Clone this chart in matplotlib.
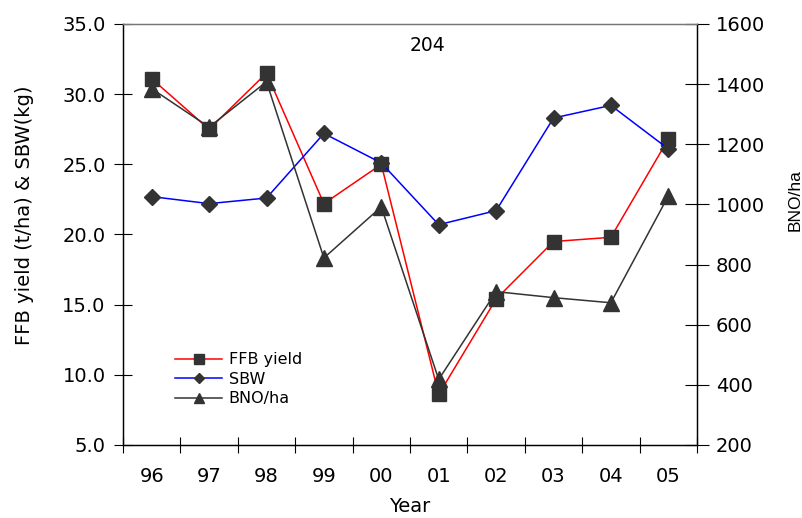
import matplotlib
matplotlib.use("Agg")
import matplotlib.pyplot as plt

years = ["96", "97", "98", "99", "00", "01", "02", "03", "04", "05"]
ffb_yield = [31.1, 27.5, 31.5, 22.2, 25.0, 8.6, 15.4, 19.5, 19.8, 26.8]
sbw = [22.7, 22.2, 22.6, 27.2, 25.1, 20.7, 21.7, 28.3, 29.2, 26.1]
bno_ha = [1385, 1257, 1408, 822, 992, 418, 710, 690, 673, 1028]
left_ticks = [5, 10, 15, 20, 25, 30, 35]
right_ticks = [200, 400, 600, 800, 1000, 1200, 1400, 1600]

plt.rcParams['font.family'] = ['DejaVu Sans']

fig = plt.figure(figsize=(8.03, 5.18), dpi=100)
ax = fig.add_axes([123/803, 73/518, 574/803, 421/518])
ax2 = ax.twinx()

x = list(range(len(years)))
mk = '#333333'
l1, = ax.plot(x, ffb_yield, color='red', lw=1.1, marker='s', ms=10, mfc=mk, mec=mk, label='FFB yield', zorder=3)
l2, = ax.plot(x, sbw, color='blue', lw=1.1, marker='D', ms=8, mfc=mk, mec=mk, label='SBW', zorder=3)
l3, = ax2.plot(x, bno_ha, color=mk, lw=1.1, marker='^', ms=11, mfc=mk, mec=mk, label='BNO/ha', zorder=3)

ax.set_xlim(-0.5, len(years) - 0.5)
ax.set_ylim(5, 35)
ax2.set_ylim(200, 1600)
ax.set_yticks(left_ticks)
ax.set_yticklabels([f"{v:.1f}" for v in left_ticks])
ax2.set_yticks(right_ticks)

ax.set_xticks([i - 0.5 for i in range(len(years) + 1)])
ax.set_xticklabels([])
ax.set_xticks(x, minor=True)
ax.set_xticklabels(years, minor=True)
ax.tick_params(axis='x', which='major', direction='inout', length=12, width=0.8)
ax.tick_params(axis='x', which='minor', length=0, labelsize=14, pad=16)
ax.tick_params(axis='y', direction='inout', length=13, width=0.8, labelsize=14, pad=6)
ax2.tick_params(axis='y', direction='inout', length=17, width=0.8, labelsize=14, pad=5)

for a in (ax, ax2):
    for s in a.spines.values():
        s.set_linewidth(0.9)
ax.spines['top'].set_color('#777777')
ax2.spines['top'].set_color('#777777')

ax.set_xlabel('Year', fontsize=14, labelpad=8)
ax.set_ylabel('FFB yield (t/ha) & SBW(kg)', fontsize=14)
ax.yaxis.set_label_coords(-0.155, 0.546)
ax2.set_ylabel('BNO/ha', fontsize=12.5, family=['Liberation Sans', 'DejaVu Sans'])
ax2.yaxis.set_label_coords(1.158, 0.582)

ax.text(0.531, 0.949, '204', transform=ax.transAxes, ha='center', va='center', fontsize=13.5)

leg = ax.legend(handles=[l1, l2, l3], loc='upper left', bbox_to_anchor=(0.0906, 0.220),
                frameon=False, fontsize=11.5, markerscale=0.7, handlelength=2.95,
                labelspacing=0.28, handletextpad=0.4, borderpad=0, borderaxespad=0)

fig.savefig('out.png', dpi=100)
